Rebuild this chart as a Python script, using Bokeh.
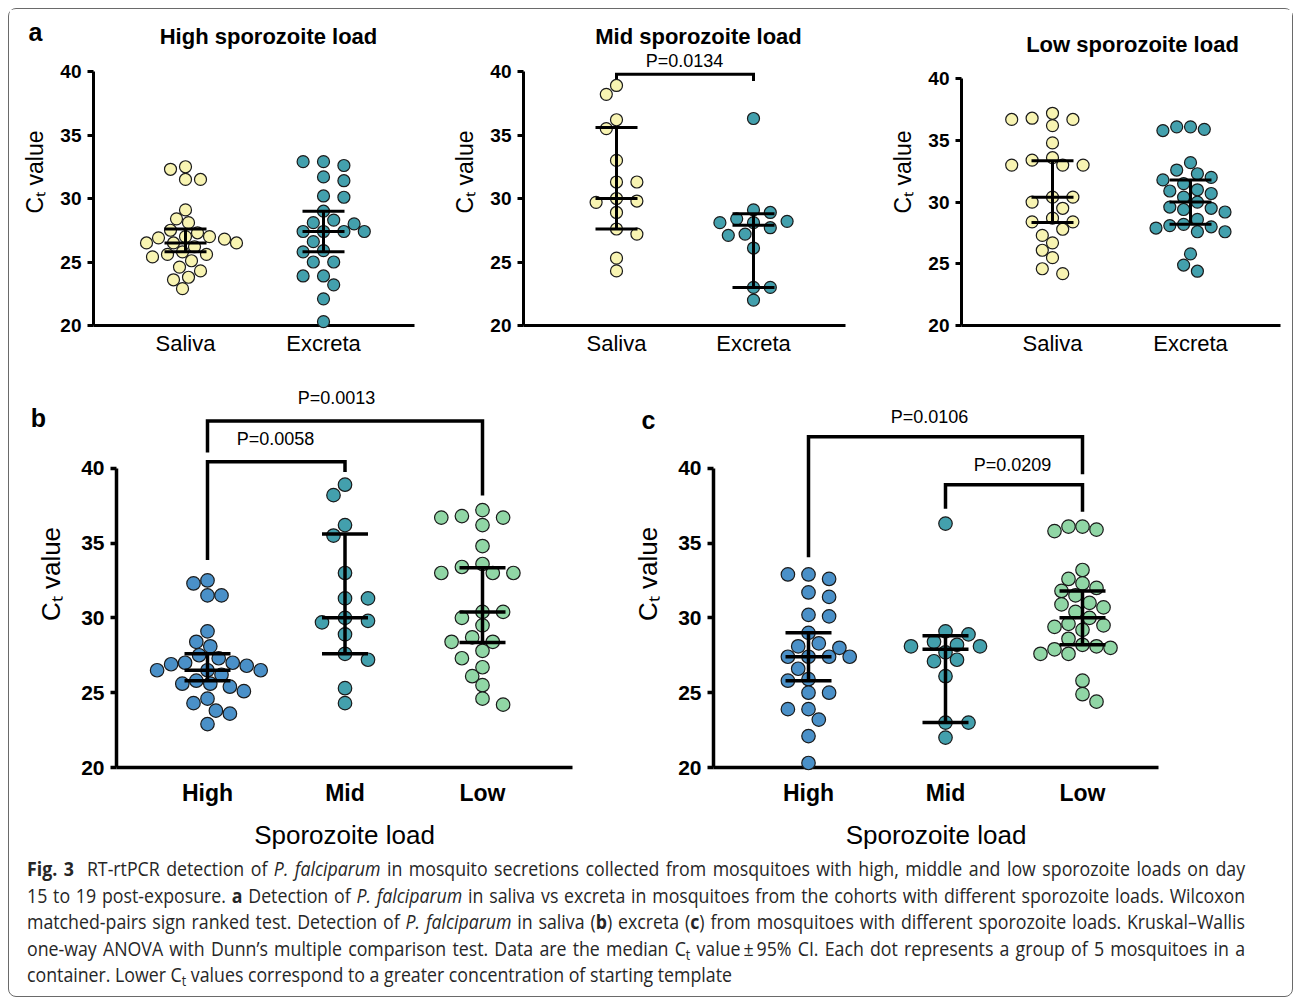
import numpy as np
from bokeh.plotting import figure
from bokeh.models import Range1d, LinearAxis, FixedTicker, Label, Whisker, TeeHead, ColumnDataSource, Div
from bokeh.layouts import row, column
from bokeh.core.properties import value
from bokeh.embed import file_html
from bokeh.resources import INLINE

FONT = "Liberation Sans"

# ---------------- data ----------------
groups_a = ["Saliva", "Excreta"]
groups_bc = ["High", "Mid", "Low"]
y_ticks = [20, 25, 30, 35, 40]

high_saliva = [32.5, 32.3, 31.5, 31.5, 29.1, 28.4, 28.1, 27.5, 27.3, 27.0, 26.9, 27.0, 26.8,
               26.5, 26.5, 26.5, 26.2, 25.8, 25.6, 25.6, 25.4, 25.1, 24.6, 24.3, 23.8, 23.6, 22.9]
high_excreta = [32.9, 32.9, 32.6, 31.7, 31.4, 30.2, 30.1, 29.0, 28.3, 28.1, 28.0, 27.4, 27.4,
                27.4, 27.4, 26.6, 25.9, 25.8, 25.0, 25.0, 23.9, 23.9, 23.2, 22.1, 20.3]
mid_saliva = [38.9, 38.2, 36.2, 35.5, 33.0, 31.3, 31.3, 29.7, 30.0, 29.8, 28.9, 27.6, 27.2, 25.3, 24.3]
mid_excreta = [36.3, 29.1, 28.9, 28.4, 28.2, 28.1, 28.1, 27.7, 27.1, 27.2, 26.1, 23.0, 23.0, 22.0]
low_saliva = [37.2, 36.8, 36.7, 36.7, 36.2, 34.8, 33.6, 33.4, 33.0, 33.0, 33.0, 30.4, 30.4, 30.0,
              29.5, 28.7, 28.4, 28.4, 27.8, 27.3, 26.7, 26.1, 25.5, 24.6, 24.2]
low_excreta = [36.1, 36.1, 35.9, 35.8, 33.2, 32.6, 32.3, 32.0, 31.8, 31.5, 31.0, 30.9, 30.7, 30.4,
               30.0, 29.6, 29.5, 29.4, 29.2, 28.6, 28.2, 28.1, 27.9, 28.0, 27.6, 27.6, 25.8, 24.9, 24.4]

# median, lower 95% CI, upper 95% CI
high_saliva_stats = [26.5, 25.8, 27.6]
high_excreta_stats = [27.4, 25.8, 29.0]
mid_saliva_stats = [30.0, 27.6, 35.6]
mid_excreta_stats = [27.9, 23.0, 28.8]
low_saliva_stats = [30.4, 28.35, 33.35]
low_excreta_stats = [30.0, 28.2, 31.8]

p_mid_a = "P=0.0134"
p_b = ["P=0.0058", "P=0.0013"]
p_c = ["P=0.0209", "P=0.0106"]

# colours
C_SAL = "#F8F4B2"
C_EXC = "#43A0AD"
C_HIGH = "#4A90C8"
C_MID = "#43A0AD"
C_LOW = "#90D6A5"


def swarm_grid(vals, d, sp, yppu):
    vals = np.asarray(vals, float)
    order = np.argsort(-vals, kind="stable")
    placed = []
    out = np.zeros(len(vals))
    for k, i in enumerate(order):
        y = vals[i] * yppu
        sgn = 1 if k % 2 == 0 else -1
        slots = [0]
        for m in range(1, 40):
            slots += [sgn * m, -sgn * m]
        chosen = 0.0
        for sl in slots:
            c = sl * sp
            if all((c - px) ** 2 + (y - py) ** 2 >= d * d - 1e-6 for px, py in placed):
                chosen = c
                break
        placed.append((chosen, y))
        out[i] = chosen
    return out


def swarm(vals, d, sp_max, limit, xppu, yppu):
    """Widest slot spacing whose swarm stays within +-limit px of the centre."""
    sp = sp_max
    while True:
        off = swarm_grid(vals, d, sp, yppu)
        if np.max(np.abs(off)) <= limit or sp < 3:
            return off / xppu
        sp -= 0.3


def make_panel(g, cats, series, big):
    L, R, T, B = g["L"], g["R"], g["T"], g["B"]
    s, c0 = g["s"], g["c0"]
    xs, xe = -(c0 - L) / s, (R - c0) / s
    yppu = (B - g["y40"]) / 20.0
    ye = 20 + (B - T) / yppu
    p = figure(width=g["w"], height=g["h"], x_range=Range1d(xs, xe), y_range=Range1d(20, ye),
               min_border_left=L - g["x0"], min_border_right=g["x0"] + g["w"] - R,
               min_border_top=T - g["y0"], min_border_bottom=g["y0"] + g["h"] - B,
               x_axis_location=None, y_axis_location=None, output_backend="svg",
               toolbar_location=None, outline_line_color=None,
               background_fill_color="white", border_fill_color="white")
    p.xgrid.visible = False
    p.ygrid.visible = False

    lw = 3.5 if big else 3
    yax = LinearAxis(bounds=(20, 40), ticker=FixedTicker(ticks=y_ticks),
                     axis_line_width=lw, major_tick_line_width=lw, major_tick_out=6, major_tick_in=0,
                     minor_tick_line_color=None, major_label_standoff=6,
                     major_label_text_font=FONT, major_label_text_font_style="bold",
                     major_label_text_font_size="21px" if big else "19px",
                     major_label_text_color="black",
                     axis_label="C\u209c value", axis_label_text_font=FONT,
                     axis_label_text_font_style="normal",
                     axis_label_text_font_size="26px" if big else "23px",
                     axis_label_standoff=12 if big else 9, axis_label_text_color="black")
    p.add_layout(yax, "left")
    xax = LinearAxis(ticker=FixedTicker(ticks=list(range(len(cats)))),
                     major_label_overrides={i: c for i, c in enumerate(cats)},
                     axis_line_width=lw, major_tick_out=0, major_tick_in=0,
                     minor_tick_line_color=None, major_label_standoff=12 if big else 5,
                     major_label_text_font=FONT,
                     major_label_text_font_style="bold" if big else "normal",
                     major_label_text_font_size="23px" if big else "22px",
                     major_label_text_color="black")
    if big:
        xax.axis_label = "Sporozoite load"
        xax.axis_label_text_font = FONT
        xax.axis_label_text_font_style = "normal"
        xax.axis_label_text_font_size = "26px"
        xax.axis_label_standoff = 11
        xax.axis_label_text_color = "black"
    p.add_layout(xax, "below")

    size = 13.5 if big else 12
    barw = 46 if big else 42
    sp_max = 11.5 if big else 10.2
    limit = 42 if big else 41
    for i, (vals, st, col) in enumerate(series):
        off = swarm(vals, size + 0.3, sp_max, limit, s, yppu)
        src = ColumnDataSource(dict(x=i + off, y=vals))
        p.scatter("x", "y", source=src, size=size, fill_color=col, line_color="#1a1a1a",
                  line_width=1.2, level="annotation")
        wsrc = ColumnDataSource(dict(base=[i], lower=[st[1]], upper=[st[2]], med=[st[0]]))
        p.add_layout(Whisker(source=wsrc, base="base", lower="lower", upper="upper",
                             dimension="height", line_width=lw, line_color="black",
                             upper_head=TeeHead(size=barw, line_width=lw, line_color="black"),
                             lower_head=TeeHead(size=barw, line_width=lw, line_color="black"),
                             level="overlay"))
        p.scatter("base", "med", source=wsrc, marker="dash", size=barw, line_width=lw,
                  line_color="black", level="overlay")

    def px(X):
        return xs + (X - L) / s

    def py(Y):
        return 20 + (B - Y) / yppu

    p._px, p._py, p._lw = px, py, lw
    return p


def label(p, X, Y, text, size, bold=False, align="center"):
    p.add_layout(Label(x=p._px(X), y=p._py(Y), text=text, text_font=FONT,
                       text_font_size=size, text_font_style="bold" if bold else "normal",
                       text_align=align, text_baseline="middle", text_color="black"))


def letter(p, X, Y, text):
    p.text(x=[p._px(X)], y=[p._py(Y)], text=[text], text_font=value(FONT),
           text_font_size=value("25px"), text_font_style="bold", text_align="center",
           text_baseline="middle", text_color="black", level="overlay")


def bracket(p, i, j, y, lb, rb):
    p.multi_line(xs=[[i, i, j, j]], ys=[[lb, y, y, rb]], line_width=p._lw,
                 line_color="black", line_join="miter")


# ---------------- panel geometry (page pixels) ----------------
G_a1 = dict(x0=9, y0=9, w=431, h=363, L=93, R=414, T=18, B=325, y40=71, c0=185, s=138)
G_a2 = dict(x0=440, y0=9, w=436, h=363, L=523, R=845, T=18, B=325, y40=71, c0=616, s=137)
G_a3 = dict(x0=876, y0=9, w=416, h=363, L=961, R=1280, T=18, B=334, y40=80, c0=1052, s=138)
G_b = dict(x0=9, y0=372, w=611, h=480, L=116, R=572, T=380, B=777, y40=470, c0=207, s=137.5)
G_c = dict(x0=620, y0=372, w=672, h=480, L=713, R=1158, T=380, B=777, y40=470, c0=808, s=137)

a1 = make_panel(G_a1, groups_a, [(high_saliva, high_saliva_stats, C_SAL),
                                  (high_excreta, high_excreta_stats, C_EXC)], False)
a2 = make_panel(G_a2, groups_a, [(mid_saliva, mid_saliva_stats, C_SAL),
                                  (mid_excreta, mid_excreta_stats, C_EXC)], False)
a3 = make_panel(G_a3, groups_a, [(low_saliva, low_saliva_stats, C_SAL),
                                  (low_excreta, low_excreta_stats, C_EXC)], False)
pb = make_panel(G_b, groups_bc, [(high_saliva, high_saliva_stats, C_HIGH),
                                  (mid_saliva, mid_saliva_stats, C_MID),
                                  (low_saliva, low_saliva_stats, C_LOW)], True)
pc = make_panel(G_c, groups_bc, [(high_excreta, high_excreta_stats, C_HIGH),
                                  (mid_excreta, mid_excreta_stats, C_MID),
                                  (low_excreta, low_excreta_stats, C_LOW)], True)

letter(a1, 35, 31, "a")
label(a1, 268, 36, "High sporozoite load", "22px", bold=True)
label(a2, 698, 36, "Mid sporozoite load", "22px", bold=True)
label(a3, 1132, 45, "Low sporozoite load", "22px", bold=True)
bracket(a2, 0, 1, 39.79, 39.25, 39.25)
label(a2, 684, 60, p_mid_a, "18px")

letter(pb, 38, 418, "b")
bracket(pb, 0, 1, 40.44, 33.86, 39.74)
bracket(pb, 0, 2, 43.16, 41.05, 38.17)
label(pb, 275, 440, p_b[0], "18px")
label(pb, 336, 398, p_b[1], "18px")

letter(pc, 648, 421, "c")
bracket(pc, 1, 2, 38.89, 37.3, 37.1)
bracket(pc, 0, 2, 42.11, 34.05, 39.6)
label(pc, 1012, 467, p_c[0], "18px")
label(pc, 929, 417, p_c[1], "18px")

# ---------------- caption ----------------
SUB = '<span style="font-size:70%;position:relative;top:4px;line-height:0;">t</span>'
cap_lines = [
    "<b>Fig.&nbsp;3</b>&nbsp; RT-rtPCR detection of <i>P.&nbsp;falciparum</i> in mosquito secretions collected from mosquitoes with high, middle and low sporozoite loads on day",
    "15 to 19 post-exposure. <b>a</b> Detection of <i>P.&nbsp;falciparum</i> in saliva vs excreta in mosquitoes from the cohorts with different sporozoite loads. Wilcoxon",
    "matched-pairs sign ranked test. Detection of <i>P.&nbsp;falciparum</i> in saliva (<b>b</b>) excreta (<b>c</b>) from mosquitoes with different sporozoite loads. Kruskal\u2013Wallis",
    f"one-way ANOVA with Dunn\u2019s multiple comparison test. Data are the median C{SUB} value\u2009\u00b1\u200995% CI. Each dot represents a group of 5 mosquitoes in a",
    f"container. Lower C{SUB} values correspond to a greater concentration of starting template",
]
SX = 0.91
inner_w = 1218 / SX
parts = []
for k, ln in enumerate(cap_lines):
    last = k == len(cap_lines) - 1
    parts.append(
        f'<div style="height:26.5px;line-height:26.5px;white-space:nowrap;'
        f'text-align:{"left" if last else "justify"};text-align-last:{"left" if last else "justify"};">'
        f'{ln}</div>')
cap_html = (
    f'<div style="position:relative;width:1283px;height:144px;">'
    f'<div style="position:absolute;left:18px;top:4px;width:{inner_w:.1f}px;transform:scaleX({SX});'
    f'transform-origin:0 0;font-family:\'Open Sans\',sans-serif;font-size:19.5px;color:#262626;">'
    + "".join(parts) + "</div></div>")
cap = Div(text=cap_html, width=1283, height=144, margin=0)

root = column(row(a1, a2, a3), row(pb, pc), cap, margin=(8, 0, 0, 8),
              styles={"border": "1px solid #6a6a6a", "border-radius": "8px"})

open("out.html", "w").write(file_html(root, INLINE))
